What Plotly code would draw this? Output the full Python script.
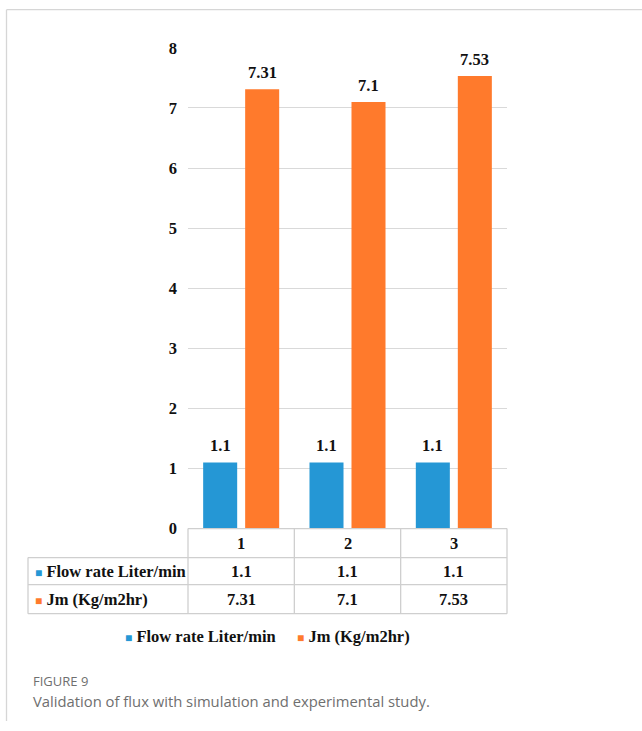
import plotly.graph_objects as go

# Data
categories = ["1", "2", "3"]
flow_rate = [1.1, 1.1, 1.1]
jm_flux = [7.31, 7.1, 7.53]
series_names = ["Flow rate Liter/min", "Jm (Kg/m2hr)"]
y_ticks = [0, 1, 2, 3, 4, 5, 6, 7, 8]
caption_title = "FIGURE 9"
caption_text = "Validation of flux with simulation and experimental study."

W, H = 642, 731
ROW0, ROWSCALE = 9.2, 0.9726  # vertical placement of the page rows
BLUE = "#2597d5"
ORANGE = "#ff7a2c"
GRID = "#d9d9d9"
SERIF = "Liberation Serif"
FS = 16.5
BARGAP, BARGROUPGAP = 0.21, 0.19


def py(p):
    """page row -> paper y"""
    return 1 - ((p - ROW0) / ROWSCALE) / H


def pxx(p):
    """page column -> paper x"""
    return p / W


# Plot area in page pixels
px_left, px_right = 188, 507
px_top, px_bottom = 48, 528
xdom = [pxx(px_left), pxx(px_right)]
ydom = [py(px_bottom), py(px_top)]

series = [(series_names[0], flow_rate, BLUE), (series_names[1], jm_flux, ORANGE)]

fig = go.Figure()
for name, vals, col in series:
    fig.add_trace(go.Bar(
        x=categories, y=vals, name=name,
        marker=dict(color=col, line=dict(width=0)),
        showlegend=False, hoverinfo="x+y+name",
    ))

fig.update_layout(
    width=W, height=H, margin=dict(l=0, r=0, t=0, b=0),
    paper_bgcolor="white", plot_bgcolor="white",
    barmode="group", bargap=BARGAP, bargroupgap=BARGROUPGAP,
    xaxis=dict(domain=xdom, type="category", range=[-0.5, 2.5],
               showticklabels=False, showgrid=False, zeroline=False,
               showline=False, ticks=""),
    yaxis=dict(domain=ydom, range=[0, 8], tickvals=y_ticks,
               showgrid=True, gridcolor=GRID, gridwidth=1.3,
               zeroline=False, showline=False, ticks="",
               ticklabelstandoff=10,
               tickfont=dict(family=SERIF, size=FS, color="#111", weight="bold")),
)

shapes = []
line_style = dict(color="#cfcfcf", width=1.3)
frame_style = dict(color="#d6d6d6", width=1.3)

# Outer frame (left and top edges)
frame_top = min(py(7), 0.999)
shapes.append(dict(type="line", xref="paper", yref="paper",
                   x0=pxx(6.5), x1=pxx(6.5), y0=frame_top, y1=0, line=frame_style))
shapes.append(dict(type="line", xref="paper", yref="paper",
                   x0=pxx(6.5), x1=1, y0=frame_top, y1=frame_top, line=frame_style))

# Data table grid
row_lines = [528, 557, 584, 613]
n = len(categories)
col_edges = [xdom[0] + k * (xdom[1] - xdom[0]) / n for k in range(n + 1)]
label_left = pxx(28)
shapes.append(dict(type="line", xref="paper", yref="paper",
                   x0=col_edges[0], x1=col_edges[-1], y0=py(row_lines[0]), y1=py(row_lines[0]),
                   line=line_style))
for r in row_lines[1:]:
    shapes.append(dict(type="line", xref="paper", yref="paper",
                       x0=label_left, x1=col_edges[-1], y0=py(r), y1=py(r), line=line_style))
for ce in col_edges:
    shapes.append(dict(type="line", xref="paper", yref="paper",
                       x0=ce, x1=ce, y0=py(row_lines[0]), y1=py(row_lines[-1]), line=line_style))
shapes.append(dict(type="line", xref="paper", yref="paper",
                   x0=label_left, x1=label_left, y0=py(row_lines[1]), y1=py(row_lines[-1]),
                   line=line_style))

annotations = []
tfont = dict(family=SERIF, size=FS, color="#111", weight="bold")

# Value labels above the bars (grouped bar centre offsets from the gap settings)
slot = (1 - BARGAP) / len(series)
for s, (name, vals, col) in enumerate(series):
    off = -(1 - BARGAP) / 2 + slot * (s + 0.5)
    for i, v in enumerate(vals):
        annotations.append(dict(text=str(v), x=i + off, y=v, xref="x", yref="y",
                                showarrow=False, font=tfont, xanchor="center",
                                yanchor="bottom", yshift=5))

col_centers = [(col_edges[k] + col_edges[k + 1]) / 2 for k in range(n)]
row_centers = [(row_lines[i] + row_lines[i + 1]) / 2 for i in range(3)]

# Header row with category labels
for c, cx in zip(categories, col_centers):
    annotations.append(dict(text=c, x=cx, y=py(row_centers[0]), xref="paper", yref="paper",
                            showarrow=False, font=tfont, xanchor="center", yanchor="middle"))


def swatch_label(name, color):
    return f"<span style='color:{color};font-size:12px'>■</span> {name}"


# Table body rows
for i, (name, vals, col) in enumerate(series):
    yc = py(row_centers[i + 1])
    annotations.append(dict(text=swatch_label(name, col), x=pxx(33), y=yc,
                            xref="paper", yref="paper", showarrow=False, font=tfont,
                            xanchor="left", yanchor="middle"))
    for v, cx in zip(vals, col_centers):
        annotations.append(dict(text=str(v), x=cx, y=yc, xref="paper", yref="paper",
                                showarrow=False, font=tfont, xanchor="center", yanchor="middle"))

# Legend
for (name, _, col), xl in zip(series, [123, 295]):
    annotations.append(dict(text=swatch_label(name, col), x=pxx(xl), y=py(636),
                            xref="paper", yref="paper", showarrow=False, font=tfont,
                            xanchor="left", yanchor="middle"))

# Caption
annotations.append(dict(text=caption_title, x=pxx(31), y=py(680), xref="paper", yref="paper",
                        showarrow=False, xanchor="left", yanchor="middle",
                        font=dict(family="Open Sans", size=13, color="#6f6f6f")))
annotations.append(dict(text=caption_text, x=pxx(31), y=py(700), xref="paper", yref="paper",
                        showarrow=False, xanchor="left", yanchor="middle",
                        font=dict(family="Open Sans", size=14.8, color="#6f6f6f")))

fig.update_layout(shapes=shapes, annotations=annotations)
fig.write_html("out.html")
